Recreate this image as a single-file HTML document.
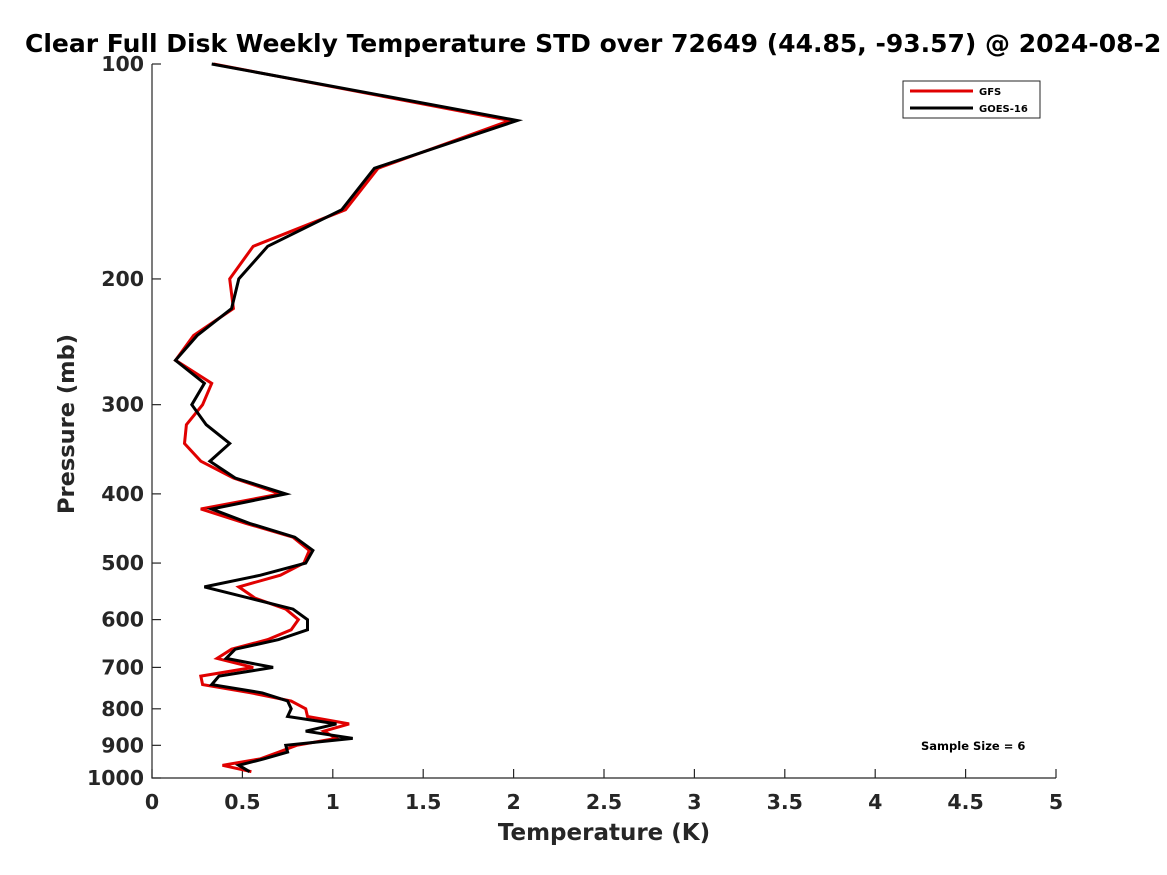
<!DOCTYPE html>
<html><head><meta charset="utf-8"><style>
html,body{margin:0;padding:0;background:#fff;}
svg{display:block;font-family:"DejaVu Sans","Liberation Sans",sans-serif;font-weight:bold;}
</style></head><body>
<svg id="chart" width="1167" height="875" viewBox="0 0 1167 875" xmlns="http://www.w3.org/2000/svg">
<rect width="1167" height="875" fill="#fff"/>
<text x="25" y="52" font-size="25" fill="#000">Clear Full Disk Weekly Temperature STD over 72649 (44.85, -93.57) @ 2024-08-2</text>
<g id="axes"></g>
<g id="series"></g>
<g>
<rect x="903" y="81" width="137" height="37" fill="#fff" stroke="#262626" stroke-width="1"/>
<line x1="910" y1="91" x2="973" y2="91" stroke="#e00000" stroke-width="3"/>
<text x="979" y="95" font-size="10" fill="#000">GFS</text>
<line x1="910" y1="108" x2="973" y2="108" stroke="#000" stroke-width="3"/>
<text x="979" y="112" font-size="10" fill="#000">GOES-16</text>
</g>
<text x="921" y="750" font-size="11.5" fill="#000">Sample Size = 6</text>
<text x="604" y="840" font-size="23" fill="#262626" text-anchor="middle">Temperature (K)</text>
<text transform="translate(74,424) rotate(-90)" font-size="22.5" fill="#262626" text-anchor="middle">Pressure (mb)</text>
</svg>
<script>
const xTicks = [0,0.5,1,1.5,2,2.5,3,3.5,4,4.5,5];
const xTickLabels = ["0","0.5","1","1.5","2","2.5","3","3.5","4","4.5","5"];
const yTicks = [100,200,300,400,500,600,700,800,900,1000];
const yTickLabels = ["100","200","300","400","500","600","700","800","900","1000"];
const pressures = [100,120,140,160,180,200,220,240,260,280,300,320,340,360,380,400,420,440,460,480,500,520,540,560,580,600,620,640,660,680,700,720,740,760,780,800,820,840,860,880,900,920,940,960,980];
const gfsValues = [0.34,1.98,1.25,1.07,0.56,0.43,0.45,0.23,0.13,0.33,0.28,0.19,0.18,0.27,0.45,0.71,0.27,0.52,0.78,0.87,0.84,0.71,0.48,0.57,0.74,0.81,0.77,0.64,0.44,0.36,0.56,0.27,0.28,0.55,0.77,0.85,0.86,1.09,0.95,1.02,0.80,0.70,0.60,0.39,0.55];
const goesValues = [0.33,2.02,1.23,1.05,0.64,0.48,0.44,0.25,0.13,0.29,0.22,0.30,0.43,0.32,0.46,0.74,0.33,0.54,0.79,0.89,0.85,0.60,0.29,0.54,0.78,0.86,0.86,0.70,0.46,0.41,0.67,0.37,0.33,0.61,0.75,0.77,0.75,1.02,0.85,1.11,0.74,0.75,0.62,0.48,0.54];

const NS="http://www.w3.org/2000/svg";
const X0=152,X1=1056,Y0=64,Y1=778;
function xs(v){return X0+(v-0)/(5-0)*(X1-X0);}
function ys(p){return Y0+(Math.log10(p)-2)/(3-2)*(Y1-Y0);}
const axes=document.getElementById('axes');
function mk(tag,attrs,parent){const e=document.createElementNS(NS,tag);for(const k in attrs)e.setAttribute(k,attrs[k]);parent.appendChild(e);return e;}
const ax=mk('path',{d:`M${X0},${Y0}V${Y1}H${X1}`,fill:'none',stroke:'#262626','stroke-width':1.2},axes);


xTicks.forEach((v,i)=>{
  const x=xs(v);
  const t=mk('line',{x1:x,y1:Y1,x2:x,y2:Y1-9,stroke:'#262626','stroke-width':1.2},axes);
  
  
  const l=mk('text',{x:x,y:Y1+31,'font-size':20.5,fill:'#262626','text-anchor':'middle'},axes);
  l.textContent=xTickLabels[i];
  
  
});
yTicks.forEach((p,i)=>{
  const y=ys(p);
  const t=mk('line',{x1:X0,y1:y,x2:X0+9,y2:y,stroke:'#262626','stroke-width':1.2},axes);
  
  
  const l=mk('text',{x:X0-8,y:y+7,'font-size':20.5,fill:'#262626','text-anchor':'end'},axes);
  l.textContent=yTickLabels[i];
  
  
});
const series=document.getElementById('series');
function line(vals,color,name){
  const pts=vals.map((v,i)=>xs(v).toFixed(1)+','+ys(pressures[i]).toFixed(1)).join(' ');
  const pl=mk('polyline',{points:pts,fill:'none',stroke:color,'stroke-width':3,'stroke-linejoin':'miter'},series);
  
  
}
line(gfsValues,'#e00000','gfs-line');
line(goesValues,'#000000','goes-16-line');
</script>
</body></html>
